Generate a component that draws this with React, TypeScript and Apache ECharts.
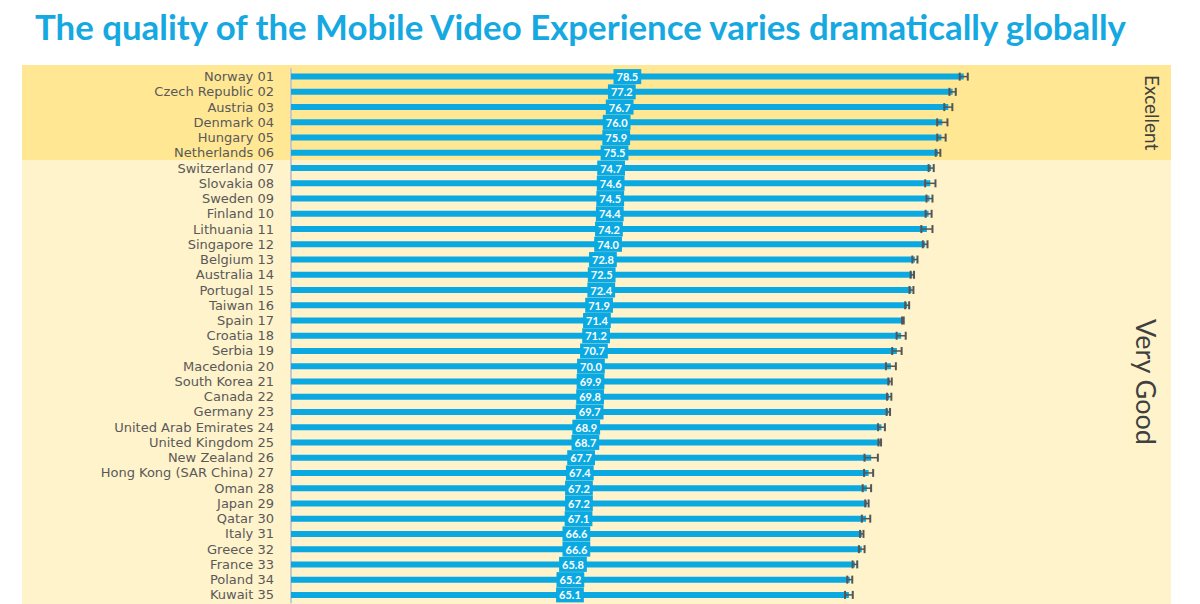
import React, { useEffect, useRef } from "react";
import * as echarts from "echarts";

const countries = [
  "Norway 01", "Czech Republic 02", "Austria 03", "Denmark 04", "Hungary 05", "Netherlands 06",
  "Switzerland 07", "Slovakia 08", "Sweden 09", "Finland 10", "Lithuania 11", "Singapore 12",
  "Belgium 13", "Australia 14", "Portugal 15", "Taiwan 16", "Spain 17", "Croatia 18",
  "Serbia 19", "Macedonia 20", "South Korea 21", "Canada 22", "Germany 23",
  "United Arab Emirates 24", "United Kingdom 25", "New Zealand 26", "Hong Kong (SAR China) 27",
  "Oman 28", "Japan 29", "Qatar 30", "Italy 31", "Greece 32", "France 33", "Poland 34", "Kuwait 35",
];

const values = [
  78.5, 77.2, 76.7, 76.0, 75.9, 75.5,
  74.7, 74.6, 74.5, 74.4, 74.2, 74.0,
  72.8, 72.5, 72.4, 71.9, 71.4, 71.2,
  70.7, 70.0, 69.9, 69.8, 69.7,
  68.9, 68.7, 67.7, 67.4,
  67.2, 67.2, 67.1, 66.6, 66.6, 65.8, 65.2, 65.1,
];

const errors = [
  0.47, 0.37, 0.47, 0.6, 0.49, 0.27,
  0.3, 0.6, 0.35, 0.35, 0.65, 0.27,
  0.3, 0.2, 0.23, 0.23, 0.1, 0.53,
  0.55, 0.58, 0.2, 0.25, 0.2,
  0.4, 0.15, 0.78, 0.53,
  0.49, 0.2, 0.49, 0.2, 0.33, 0.27, 0.29, 0.45,
];

const EXCELLENT_COUNT = 6;

const BLUE = "#0AA9E1";
const FONT = "Lato, 'Open Sans', sans-serif";
const LABEL_FONT = "'DejaVu Sans', Lato, sans-serif";

const GRID_TOP = 69;
const GRID_LEFT = 291;
const GRID_RIGHT = 52;
const GRID_BOTTOM = 1.5;
const W = 1200;
const H = 604;

export default function App() {
  const ref = useRef<HTMLDivElement>(null);

  useEffect(() => {
    document.body.style.margin = "0";
    if (!ref.current) return;
    const chart = echarts.init(ref.current, undefined, { renderer: "svg" });

    const rowH = (H - GRID_TOP - GRID_BOTTOM) / countries.length;
    const bandSplit = GRID_TOP + rowH * EXCELLENT_COUNT;

    const errData = values.map((v, i) => [i, v - errors[i], v + errors[i]]);

    chart.setOption({
      animation: false,
      title: {
        text: "The quality of the Mobile Video Experience varies dramatically globally",
        left: 30,
        top: 4,
        textStyle: { fontSize: 34.8, fontWeight: "bold", color: "#16A8E0", fontFamily: FONT },
      },
      graphic: [
        {
          type: "rect",
          z: -10,
          silent: true,
          shape: { x: 22, y: 65, width: 1149, height: bandSplit - 65 },
          style: { fill: "#FFE793" },
        },
        {
          type: "rect",
          z: -10,
          silent: true,
          shape: { x: 22, y: bandSplit, width: 1149, height: H - bandSplit },
          style: { fill: "#FFF3CB" },
        },
        {
          type: "text",
          x: 1152,
          y: (65 + bandSplit) / 2,
          rotation: -Math.PI / 2,
          style: {
            text: "Excellent",
            fill: "#404040",
            font: `19px ${FONT}`,
            align: "center",
            verticalAlign: "middle",
          },
        },
        {
          type: "text",
          x: 1146,
          y: 382,
          rotation: -Math.PI / 2,
          style: {
            text: "Very Good",
            fill: "#404040",
            font: `27px ${FONT}`,
            align: "center",
            verticalAlign: "middle",
          },
        },
      ],
      grid: { left: GRID_LEFT, right: GRID_RIGHT, top: GRID_TOP, bottom: GRID_BOTTOM, containLabel: false },
      xAxis: {
        type: "value",
        min: 0,
        max: 100,
        show: false,
      },
      yAxis: {
        type: "category",
        data: countries,
        inverse: true,
        axisLine: { show: true, lineStyle: { color: "#C8C8C8", width: 2 } },
        axisTick: { show: false },
        axisLabel: {
          interval: 0,
          color: "#595959",
          fontSize: 13,
          lineHeight: 14,
          fontFamily: LABEL_FONT,
          margin: 17,
        },
      },
      series: [
        {
          type: "bar",
          data: values,
          barWidth: 6,
          itemStyle: { color: BLUE },
          label: {
            show: true,
            position: "inside",
            formatter: (p: any) => Number(p.value).toFixed(1),
            color: "#FFFFFF",
            fontSize: 11,
            fontWeight: "bold",
            fontFamily: FONT,
            backgroundColor: BLUE,
            padding: [1, 3],
            lineHeight: 13,
          },
        },
        {
          type: "custom",
          data: errData,
          encode: { x: [1, 2], y: 0 },
          z: 3,
          renderItem: (params: any, api: any) => {
            const idx = api.value(0);
            const lo = api.coord([api.value(1), idx]);
            const hi = api.coord([api.value(2), idx]);
            const cap = 4;
            const style = { stroke: "#555555", lineWidth: 2 };
            return {
              type: "group",
              children: [
                { type: "line", shape: { x1: lo[0], y1: lo[1], x2: hi[0], y2: hi[1] }, style: { stroke: "#555555", lineWidth: 1.5 } },
                { type: "line", shape: { x1: lo[0], y1: lo[1] - cap, x2: lo[0], y2: lo[1] + cap }, style },
                { type: "line", shape: { x1: hi[0], y1: hi[1] - cap, x2: hi[0], y2: hi[1] + cap }, style },
              ],
            };
          },
        },
      ],
    });

    return () => chart.dispose();
  }, []);

  return <div ref={ref} style={{ width: W, height: H }} />;
}
